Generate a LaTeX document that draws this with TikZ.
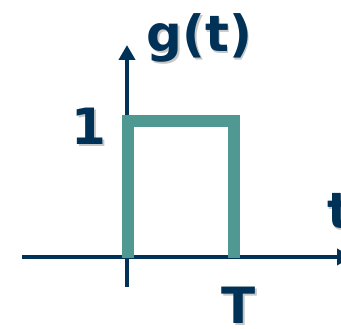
\documentclass[tikz,border=0pt]{standalone}
\usepackage{fontspec}
\setmainfont{DejaVu Sans}
\usetikzlibrary{arrows.meta}
\definecolor{navy}{RGB}{0,50,88}
\definecolor{pulse}{RGB}{80,152,146}

\begin{document}
\begin{tikzpicture}[x=1pt,y=-1pt,
    lbl/.style={text=navy,font=\fontsize{50}{60}\selectfont\bfseries,inner sep=0pt,anchor=base},
    shade/.style={lbl,text=black!22,xshift=1.5pt,yshift=-1.5pt},
    axis/.style={navy,line width=4.5pt,-{Triangle[width=16pt,length=15pt]}}]
    \useasboundingbox (0,0) rectangle (341,329);
    \coordinate (o) at (127,257);
    \coordinate (xl) at (22,257);
    \coordinate (xr) at (352,257);
    \coordinate (yb) at (127,287);
    \coordinate (yt) at (127,45);
    % ejes
    \draw[axis] (xl) -- (xr);
    \draw[axis] (yb) -- (yt);
    % pulso de ancho T
    \draw[pulse,line width=12pt] (128,258) |- (233.5,121) -- (233.5,258);
    % etiquetas con sombra
    \node[shade] at (199.5,52) {g(t)};
    \node[lbl] (gt) at (199.5,52) {g(t)};
    \node[shade] at (89,145) {1};
    \node[lbl] (one) at (89,145) {1};
    \node[shade] at (239,324) {T};
    \node[lbl] (T) at (239,324) {T};
    \node[shade,anchor=base west] at (327,229) {t};
    \node[lbl,anchor=base west] (t) at (327,229) {t};
\end{tikzpicture}
\end{document}
